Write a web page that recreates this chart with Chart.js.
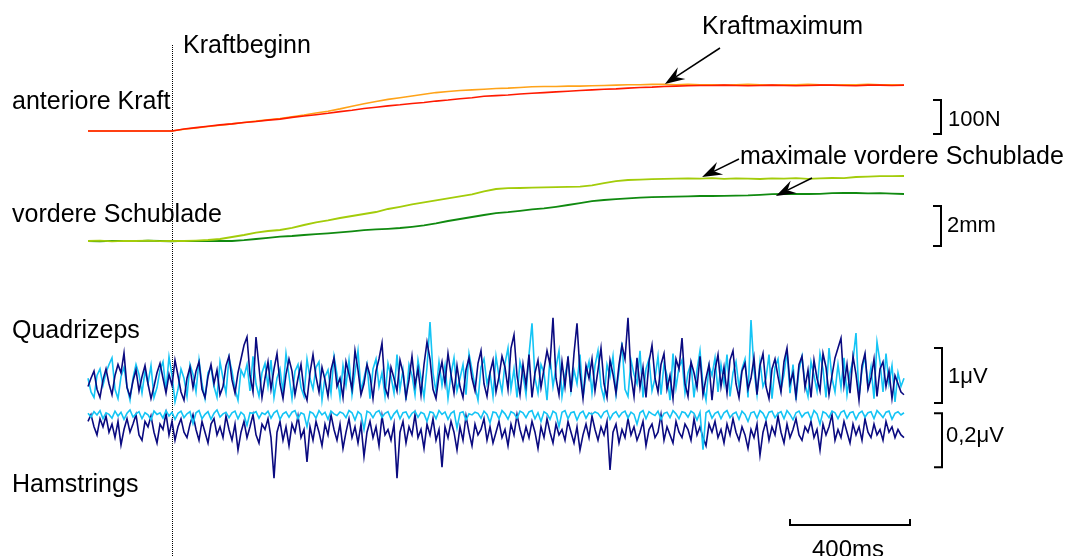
<!DOCTYPE html>
<html>
<head>
<meta charset="utf-8">
<script src="https://cdn.jsdelivr.net/npm/chart.js@4/dist/chart.umd.min.js"></script>
<style>
  html, body { margin: 0; padding: 0; background: #fff; }
  #wrap { width: 1077px; height: 556px; }
</style>
</head>
<body>
<div id="wrap"><canvas id="c" width="1077" height="556"></canvas></div>
<script>
// sample grids (ms after trace start)
const slowStepMs = 40   // force + drawer traces
const emgStepMs = 10    // EMG traces

// anteriore Kraft, N
const forceOrange = [0,0,0,0,0,0,0,0,
  5,9,13,17,21,25,29,33,37,42,
  47,53,58,65,73,80,87,93,98,103,
  108,113,116,119,121,123,125,126,128,130,
  131,131,132,132,133,134,135,136,136,137,
  137,
  136,137,136,136,135,136,137,136,135,136,136,137,136,135,136,136,137,136,136,135]
const forceRed = [0,0,0,0,0,0,0,0,
  6,10,14,18,21,25,28,32,35,40,
  44,48,52,57,61,66,70,74,77,81,
  84,88,91,95,98,102,104,106,109,111,
  113,115,117,119,121,123,124,126,128,129,
  131,132,133,134,
  134,135,134,133,134,135,134,133,134,135,135,134,133,135,135,134,135]

// vordere Schublade, mm
const drawerLight = [0,0.02,-0.02,0.01,0,0.02,-0.01,0.01,0,0.02,
  0.05,0.1,0.2,0.3,0.42,0.5,0.55,0.66,0.8,0.93,
  1.03,1.15,1.25,1.35,1.45,1.6,1.71,1.83,1.93,2.03,
  2.13,2.23,2.33,2.48,2.6,2.64,2.65,2.67,2.68,2.69,
  2.71,2.72,2.78,2.89,2.99,3.05,3.07,3.09,3.11,3.12,
  3.13,3.12,3.14,3.11,3.13,3.12,3.1,3.13,3.12,3.14,
  3.11,3.13,3.15,3.14,3.2,3.22,3.24,3.24,3.25]
const drawerDark = [0,-0.02,0.01,0,-0.01,0.02,0,-0.02,0.01,0,
  -0.01,0.01,0,0.04,0.1,0.16,0.22,0.25,0.3,0.34,
  0.38,0.43,0.48,0.54,0.58,0.61,0.65,0.71,0.78,0.88,
  1.0,1.1,1.2,1.3,1.39,1.44,1.51,1.58,1.63,1.71,
  1.8,1.89,1.99,2.05,2.09,2.13,2.17,2.19,2.21,2.22,
  2.23,2.25,2.25,2.26,2.27,2.28,2.31,2.34,2.35,2.35,
  2.35,2.36,2.39,2.41,2.4,2.38,2.39,2.37,2.35]

// Quadrizeps EMG, µV
const quadDark = [
  -0.10,0.05,0.18,-0.15,-0.30,0.02,0.22,-0.05,-0.25,0.10,
  0.30,0.15,0.51,-0.12,-0.28,0.00,0.20,-0.18,0.08,0.28,
  -0.05,-0.32,-0.10,0.15,0.32,0.05,-0.22,0.12,-0.08,0.38,
  0.10,-0.20,-0.35,0.05,0.25,-0.12,0.18,0.35,-0.15,-0.30,
  0.08,0.30,-0.05,0.20,-0.25,-0.10,0.28,0.45,0.02,-0.22,
  0.15,0.40,0.65,0.80,0.10,-0.20,0.80,0.25,-0.30,0.05,
  0.35,-0.15,0.22,0.50,-0.05,-0.32,0.12,0.40,0.18,-0.25,
  0.05,0.30,-0.18,-0.35,0.15,0.48,0.08,-0.20,0.25,0.02,
  -0.28,0.20,0.42,-0.10,0.05,-0.30,0.35,0.12,-0.15,0.55,
  0.20,-0.25,-0.05,0.30,0.10,-0.32,0.18,0.40,0.69,-0.12,
  -0.28,0.25,0.05,-0.18,0.38,0.15,-0.30,0.02,0.45,-0.08,
  0.22,-0.25,0.30,0.71,0.40,-0.15,-0.32,0.10,0.35,-0.05,
  0.50,0.12,-0.22,0.28,-0.10,-0.30,0.20,0.42,0.05,-0.18,
  0.32,0.55,-0.05,-0.28,0.15,0.38,-0.20,0.08,0.45,0.25,
  -0.15,0.60,0.84,0.10,-0.25,0.30,-0.08,0.48,-0.30,0.15,
  0.38,-0.12,0.22,0.55,0.30,1.15,0.05,-0.25,0.35,-0.10,
  0.45,-0.20,0.50,1.05,0.15,-0.32,0.28,0.05,0.40,-0.18,
  0.20,0.60,-0.05,-0.30,0.38,0.12,-0.22,0.30,0.65,0.40,
  1.15,0.10,-0.28,0.42,-0.12,0.25,-0.30,0.35,0.65,0.05,
  -0.20,0.30,0.50,-0.15,0.10,-0.32,0.40,0.22,0.78,-0.05,
  -0.28,0.35,0.15,-0.12,0.45,-0.25,0.05,0.30,-0.35,0.20,
  0.48,-0.10,0.25,-0.22,0.38,0.55,-0.05,-0.30,0.18,0.32,
  -0.15,0.05,0.42,-0.25,0.28,0.50,-0.10,-0.32,0.22,0.40,
  0.08,-0.20,0.35,0.60,-0.05,0.15,-0.28,0.30,0.45,-0.12,
  0.20,-0.30,0.38,0.05,-0.18,0.50,0.25,-0.25,0.10,0.42,
  0.60,0.78,-0.08,0.30,-0.22,0.45,0.12,-0.35,0.28,0.50,
  -0.15,0.05,0.40,-0.28,0.22,0.35,-0.10,0.18,-0.32,0.10,
  -0.05,-0.20,-0.25]
const quadLight = [
  0.05,-0.20,-0.30,0.10,0.22,-0.08,0.15,0.30,0.42,-0.15,
  -0.32,0.08,0.25,-0.10,-0.35,0.05,0.30,0.12,-0.22,0.18,
  -0.05,0.28,-0.30,-0.12,0.20,0.35,-0.18,0.44,0.10,-0.38,
  -0.15,0.22,0.05,-0.28,0.30,0.12,-0.20,0.38,-0.05,-0.32,
  0.15,0.25,-0.10,-0.30,0.35,0.05,-0.22,0.42,0.18,-0.15,
  -0.35,0.20,0.08,0.30,-0.18,0.45,-0.05,-0.28,0.15,0.32,
  -0.10,0.38,-0.30,0.05,0.22,-0.20,0.50,0.10,-0.32,0.18,
  0.30,-0.12,-0.28,0.40,0.05,-0.15,0.25,0.35,-0.35,0.08,
  0.20,-0.22,0.45,0.12,-0.30,0.28,-0.08,0.38,-0.25,0.15,
  0.55,-0.18,0.05,0.30,-0.32,0.22,0.40,-0.10,0.15,-0.28,
  0.32,0.08,-0.22,0.48,-0.15,0.20,-0.35,0.30,0.10,-0.25,
  0.38,0.05,-0.30,0.25,1.07,0.15,-0.20,0.35,-0.08,0.28,
  -0.32,0.12,0.42,-0.18,0.05,0.30,-0.25,0.50,0.20,-0.10,
  -0.35,0.25,0.40,-0.05,0.15,-0.28,0.45,0.08,-0.20,0.32,
  0.60,-0.15,0.22,-0.30,0.35,0.12,-0.25,0.48,1.05,0.05,
  -0.22,0.30,0.15,-0.35,0.42,-0.10,0.25,0.55,-0.28,0.10,
  0.38,-0.18,0.20,-0.05,0.48,-0.30,0.12,0.35,-0.22,0.28,
  0.55,-0.10,-0.32,0.30,0.08,0.45,-0.25,0.18,0.70,-0.15,
  -0.28,0.38,0.12,-0.05,0.55,-0.30,0.22,0.40,-0.18,0.05,
  0.45,-0.25,0.30,0.10,-0.35,0.50,-0.12,0.25,0.38,-0.22,
  0.15,0.32,-0.30,0.20,0.55,-0.08,-0.35,0.28,0.10,0.42,
  -0.20,0.30,-0.05,0.48,-0.28,0.15,0.35,-0.12,0.22,0.40,
  -0.30,1.11,0.20,-0.25,0.35,-0.10,0.05,0.48,-0.32,0.25,
  0.40,-0.15,0.12,0.55,-0.22,0.30,-0.35,0.20,0.45,-0.05,
  -0.28,0.35,0.10,-0.18,0.50,0.22,-0.30,0.60,0.05,-0.20,
  0.30,-0.12,0.42,-0.25,0.15,0.38,0.87,-0.30,0.20,0.45,
  -0.10,0.25,-0.32,0.71,0.35,-0.20,0.50,-0.05,0.28,-0.38,
  0.15,-0.10,0.05]

// Hamstrings EMG, µV
const hamLight = [
  0.010,-0.004,0.016,0.004,0.020,-0.010,0.012,0.006,-0.008,0.018,
  0.000,0.014,-0.012,0.010,0.022,-0.004,0.008,0.016,-0.010,0.012,
  0.004,-0.014,0.018,0.006,0.012,-0.008,0.020,0.000,0.014,-0.012,
  0.010,0.018,-0.006,0.008,0.016,-0.028,0.012,0.020,-0.010,0.006,
  0.016,-0.012,0.010,0.022,-0.004,0.008,0.014,-0.006,0.012,0.018,
  -0.010,0.014,0.004,-0.035,0.012,0.010,0.016,-0.008,0.012,0.006,
  0.018,-0.008,0.012,0.020,-0.012,0.008,0.015,-0.004,0.014,0.020,
  -0.010,0.012,0.006,-0.040,0.016,0.010,-0.008,0.020,0.004,0.014,
  -0.012,0.018,0.008,0.002,0.015,0.010,-0.006,0.020,0.012,-0.015,
  0.016,0.006,-0.050,0.018,0.012,-0.006,0.014,0.020,-0.005,0.010,
  0.016,-0.012,0.008,0.020,-0.010,0.012,0.015,-0.008,0.010,0.018,
  -0.005,0.014,0.008,-0.020,0.016,0.012,-0.010,0.020,0.006,0.015,
  -0.012,0.010,0.018,-0.045,0.012,0.016,-0.015,0.008,0.004,0.014,
  0.010,-0.008,0.018,0.006,-0.025,0.015,0.012,-0.010,0.020,0.008,
  -0.012,0.016,0.010,-0.008,0.018,0.012,-0.006,0.015,0.020,-0.010,
  0.012,-0.020,0.016,0.008,-0.012,0.018,0.010,-0.040,0.014,0.020,
  -0.010,0.012,0.016,-0.015,0.010,0.018,-0.008,0.012,0.006,0.015,
  0.010,-0.006,0.014,0.020,-0.012,0.008,0.016,-0.004,0.012,0.018,
  -0.008,0.014,0.006,-0.030,0.012,0.020,-0.010,0.016,0.008,0.002,
  0.018,-0.012,0.010,0.014,-0.006,0.020,0.008,-0.010,0.016,0.012,
  -0.004,0.018,0.010,-0.015,0.014,-0.125,0.012,0.020,-0.008,0.010,
  0.016,-0.010,0.012,0.020,-0.006,0.008,0.014,-0.012,0.018,0.006,
  -0.020,0.012,0.016,-0.008,0.020,0.010,-0.012,0.014,0.018,-0.006,
  0.010,0.016,-0.010,0.020,0.006,-0.014,0.012,0.018,-0.004,0.010,
  0.014,-0.012,0.020,0.008,-0.030,0.016,0.010,-0.006,0.018,0.012,
  -0.010,0.014,0.020,-0.008,0.012,0.016,-0.012,0.010,0.018,-0.004,
  0.012,0.016,-0.010,0.020,0.008,-0.006,0.014,0.018,-0.012,0.010,
  0.016,0.004,0.012]
const hamDark = [
  -0.02,0.005,-0.04,-0.07,-0.01,-0.04,0.00,-0.06,-0.03,-0.08,
  -0.02,-0.107,-0.05,-0.01,-0.06,-0.03,0.005,-0.07,-0.09,-0.02,
  -0.04,0.00,-0.06,-0.10,-0.03,-0.05,0.01,-0.07,-0.02,-0.09,
  -0.04,-0.01,-0.06,-0.08,-0.03,0.005,-0.05,-0.09,-0.02,-0.06,
  -0.10,-0.03,-0.01,-0.07,-0.04,-0.08,0.00,-0.05,-0.09,-0.03,
  -0.126,-0.06,-0.02,-0.08,-0.04,0.005,-0.07,-0.10,-0.03,-0.05,
  -0.01,-0.08,-0.23,-0.06,-0.02,-0.09,-0.04,-0.11,-0.03,-0.06,
  0.00,-0.08,-0.05,-0.17,-0.04,-0.09,-0.02,-0.06,-0.11,-0.03,
  -0.07,0.005,-0.05,-0.09,-0.03,-0.12,-0.06,-0.01,-0.08,-0.04,
  -0.10,-0.03,-0.15,-0.06,-0.02,-0.08,-0.04,-0.11,0.00,-0.07,
  -0.05,-0.09,-0.03,-0.23,-0.06,-0.02,-0.10,-0.04,-0.07,0.005,
  -0.08,-0.05,-0.12,-0.03,-0.07,-0.01,-0.09,-0.05,-0.19,-0.04,
  -0.08,-0.02,-0.06,-0.126,-0.04,-0.09,0.00,-0.06,-0.11,-0.03,
  -0.07,-0.05,-0.01,-0.09,-0.04,-0.10,-0.06,-0.02,-0.08,-0.05,
  -0.11,-0.03,-0.07,0.005,-0.05,-0.09,-0.04,-0.08,-0.02,-0.06,
  -0.12,-0.04,-0.08,-0.01,-0.06,-0.10,-0.03,-0.07,-0.05,-0.09,
  -0.02,-0.06,-0.10,-0.04,-0.126,-0.07,-0.03,-0.08,0.00,-0.05,
  -0.09,-0.04,-0.07,-0.02,-0.20,-0.06,-0.03,-0.10,-0.05,-0.08,
  -0.01,-0.07,-0.04,-0.09,-0.06,-0.02,-0.11,-0.05,-0.03,-0.08,
  -0.06,0.005,-0.09,-0.04,-0.07,-0.10,-0.02,-0.06,-0.08,-0.03,
  -0.05,-0.09,-0.01,-0.07,-0.04,-0.08,-0.11,-0.03,-0.06,-0.02,
  -0.08,-0.05,-0.10,-0.03,-0.07,-0.01,-0.06,-0.09,-0.04,-0.07,
  -0.12,-0.05,-0.08,-0.03,-0.145,-0.06,-0.02,-0.09,-0.04,-0.07,
  0.00,-0.06,-0.10,-0.03,-0.08,-0.05,-0.01,-0.07,-0.09,-0.04,
  -0.06,-0.02,-0.08,-0.05,-0.126,-0.03,-0.07,-0.04,0.005,-0.09,
  -0.05,-0.08,-0.02,-0.06,-0.10,-0.03,-0.07,-0.04,-0.09,-0.01,
  -0.06,-0.08,-0.03,-0.07,-0.05,-0.09,-0.02,-0.06,-0.04,-0.08,
  -0.05,-0.07,-0.08]

// markers in data units
const kraftbeginnMs = 280
const kraftmaxPoint = [1923, 138]       // ms, N
const drawerMaxLight = [2047, 3.2]      // ms, mm
const drawerMaxDark = [2293, 2.25]      // ms, mm
const timeBar = [2340, 2740]            // 400 ms
const forceBar = [-9, 91]               // 100 N
const drawerBar = [-0.25, 1.75]         // 2 mm
const quadBar = [-0.4, 0.6]             // 1 µV
const hamBar = [-0.19, 0.01]            // 0,2 µV

// ---- layout ----
const W = 1077, H = 556
const x0 = 88, pxPerMs = 0.3
function yRange(zeroPx, pxPerUnit) {
  return { min: (zeroPx - H) / pxPerUnit, max: zeroPx / pxPerUnit }
}
const FONT = '"Liberation Sans", Arial, sans-serif'

function series(vals, step) {
  return vals.map((v, i) => ({ x: i * step, y: v }))
}
function trace(vals, step, color, axis, width) {
  return {
    data: series(vals, step), yAxisID: axis, borderColor: color,
    borderWidth: width, pointRadius: 0, tension: 0, fill: false
  }
}

function arrow(ctx, x1, y1, x2, y2) {
  const ang = Math.atan2(y2 - y1, x2 - x1)
  const c = Math.cos(ang), s = Math.sin(ang)
  const len = 20, half = 7, notch = 0.65
  ctx.beginPath()
  ctx.moveTo(x1, y1)
  ctx.lineTo(x2 - c * len * notch, y2 - s * len * notch)
  ctx.stroke()
  ctx.beginPath()
  ctx.moveTo(x2, y2)
  ctx.lineTo(x2 - c * len - s * half, y2 - s * len + c * half)
  ctx.lineTo(x2 - c * len * notch, y2 - s * len * notch)
  ctx.lineTo(x2 - c * len + s * half, y2 - s * len - c * half)
  ctx.closePath()
  ctx.fill()
}

const annotate = {
  id: 'annotate',
  beforeDatasetsDraw(chart) {
    const ctx = chart.ctx
    const bx = Math.round(chart.scales.x.getPixelForValue(kraftbeginnMs)) + 0.5
    ctx.save()
    ctx.strokeStyle = '#000'
    ctx.lineWidth = 1
    ctx.setLineDash([1, 1])
    ctx.beginPath()
    ctx.moveTo(bx, 45)
    ctx.lineTo(bx, H)
    ctx.stroke()
    ctx.restore()
  },
  afterDatasetsDraw(chart) {
    const ctx = chart.ctx
    const s = chart.scales
    ctx.save()
    ctx.fillStyle = '#000'
    ctx.textBaseline = 'alphabetic'
    ctx.textAlign = 'left'

    ctx.font = '25px ' + FONT
    ctx.fillText('Kraftbeginn', 183, 53)
    ctx.fillText('Kraftmaximum', 702, 34)
    ctx.fillText('anteriore Kraft', 12, 109)
    ctx.fillText('vordere Schublade', 12, 222)
    ctx.fillText('maximale vordere Schublade', 740, 164)
    ctx.fillText('Quadrizeps', 12, 338)
    ctx.fillText('Hamstrings', 12, 492)

    ctx.font = '22px ' + FONT
    ctx.fillText('100N', 948, 126)
    ctx.fillText('2mm', 947, 232)
    ctx.fillText('1\u03bcV', 948, 383)
    ctx.fillText('0,2\u03bcV', 946, 442)
    ctx.font = '24px ' + FONT
    ctx.fillText('400ms', 812, 557)

    // scale bars
    ctx.strokeStyle = '#000'
    ctx.lineWidth = 2
    const vbar = (axis, r, x) => {
      const a = s[axis].getPixelForValue(r[0]), b = s[axis].getPixelForValue(r[1])
      ctx.beginPath()
      ctx.moveTo(x - 8, b); ctx.lineTo(x, b); ctx.lineTo(x, a); ctx.lineTo(x - 8, a)
      ctx.stroke()
    }
    vbar('yF', forceBar, 941)
    vbar('yD', drawerBar, 941)
    vbar('yQ', quadBar, 942)
    vbar('yH', hamBar, 942)
    const t1 = s.x.getPixelForValue(timeBar[0]), t2 = s.x.getPixelForValue(timeBar[1])
    ctx.beginPath()
    ctx.moveTo(t1, 519); ctx.lineTo(t1, 525); ctx.lineTo(t2, 525); ctx.lineTo(t2, 519)
    ctx.stroke()

    // arrows
    ctx.lineWidth = 1.5
    const tip = (p, axis) => [s.x.getPixelForValue(p[0]), s[axis].getPixelForValue(p[1])]
    let p = tip(kraftmaxPoint, 'yF')
    arrow(ctx, 720, 48, p[0], p[1])
    p = tip(drawerMaxLight, 'yD')
    arrow(ctx, 739, 159, p[0], p[1])
    p = tip(drawerMaxDark, 'yD')
    arrow(ctx, 812, 178, p[0], p[1])
    ctx.restore()
  }
}

new Chart(document.getElementById('c'), {
  type: 'line',
  data: {
    datasets: [
      trace(forceRed, slowStepMs, '#ff1a00', 'yF', 1.6),
      trace(forceOrange, slowStepMs, '#ffa319', 'yF', 1.6),
      trace(drawerLight, slowStepMs, '#a3cc0a', 'yD', 1.8),
      trace(drawerDark, slowStepMs, '#108a10', 'yD', 1.8),
      trace(quadDark, emgStepMs, '#0a0a80', 'yQ', 1.6),
      trace(quadLight, emgStepMs, '#14c4f5', 'yQ', 1.6),
      trace(hamLight, emgStepMs, '#14c4f5', 'yH', 1.6),
      trace(hamDark, emgStepMs, '#0a0a80', 'yH', 1.6)
    ]
  },
  options: {
    responsive: false,
    devicePixelRatio: 1,
    animation: false,
    layout: { padding: 0 },
    plugins: { legend: { display: false }, tooltip: { enabled: false } },
    scales: {
      x: { type: 'linear', display: false, min: -x0 / pxPerMs, max: (W - x0) / pxPerMs },
      yF: { type: 'linear', display: false, ...yRange(131, 0.34) },
      yD: { type: 'linear', display: false, ...yRange(241, 20) },
      yQ: { type: 'linear', display: false, ...yRange(381, 55) },
      yH: { type: 'linear', display: false, ...yRange(416, 270) }
    }
  },
  plugins: [annotate]
})
</script>
</body>
</html>
